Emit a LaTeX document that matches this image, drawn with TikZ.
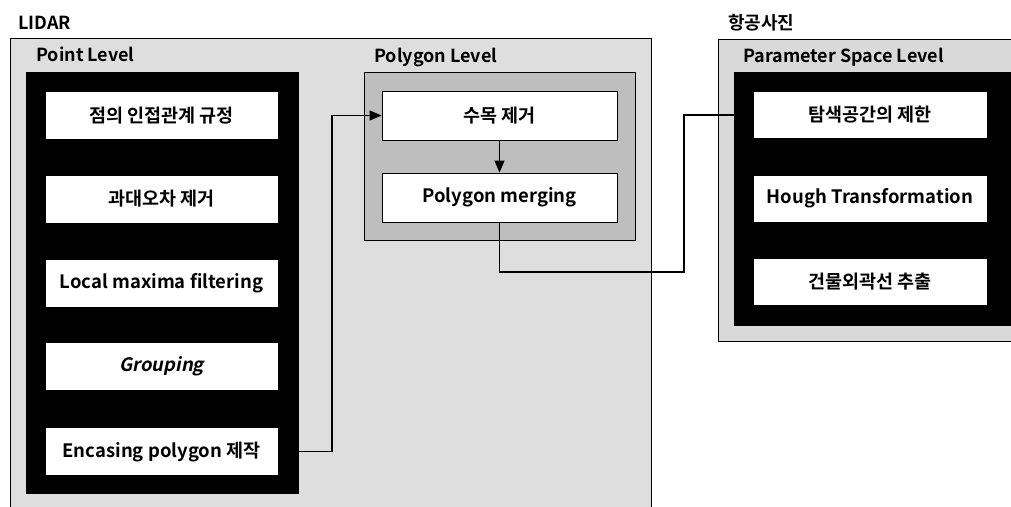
\documentclass[tikz,border=0pt]{standalone}
\usepackage{fontspec}
\setmainfont{Noto Sans CJK KR}[BoldFont={* Bold}, ItalicFont={Noto Sans CJK KR}, ItalicFeatures={FakeSlant=0.2}, BoldItalicFont={* Bold}, BoldItalicFeatures={FakeSlant=0.2}]
\usetikzlibrary{arrows.meta}
\definecolor{lidarbg}{HTML}{DEDEDE}
\definecolor{polybg}{HTML}{BEBEBE}
\definecolor{parambg}{HTML}{D9D9D9}
\tikzset{
  frame/.style={draw=black, line width=0.8pt},
  blackbox/.style={fill=black, draw=black, inner sep=0pt, outer sep=0pt},
  whitebox/.style={fill=white, draw=black, line width=0.9pt, minimum height=48pt, inner sep=0pt, font=\fontsize{18.5}{21}\selectfont\bfseries},
  levellabel/.style={anchor=base west, inner sep=0pt, font=\fontsize{18}{21}\selectfont\bfseries},
  conn/.style={draw=black, line width=1.2pt},
  arr/.style={conn, -{Triangle[length=12pt,width=10pt]}}
}
\begin{document}
\begin{tikzpicture}[x=1pt, y=-1pt]
\useasboundingbox (0,0) rectangle (1011,506);
\fill[white] (0,0) rectangle (1011,506);
\begin{scope}
\clip (0,0) rectangle (1011,506);
% LIDAR frame
\path[frame, fill=lidarbg] (10,38) rectangle (651,530);
% Parameter space frame
\path[frame, fill=parambg] (718,39) rectangle (1030,341);
% Polygon level box
\path[frame, fill=polybg] (364,72) rectangle (635,240);
% Point level black box
\node[blackbox, minimum width=272pt, minimum height=421pt] (pointblk) at (162,282.5) {};
% Parameter black box
\node[blackbox, minimum width=290pt, minimum height=253pt] (paramblk) at (879,198.5) {};
\end{scope}
% Labels
\node[levellabel] (lidar) at (18,29) {LIDAR};
\node[levellabel] (aerial) at (728,29) {항공사진};
\node[levellabel] (pointlbl) at (36,61) {Point Level};
\node[levellabel] (polylbl) at (374,62) {Polygon Level};
\node[levellabel] (paramlbl) at (743,62) {Parameter Space Level};
% Point level boxes
\node[whitebox, minimum width=233pt] (p1) at (161.5,115.5) {점의 인접관계 규정};
\node[whitebox, minimum width=233pt] (p2) at (161.5,199) {과대오차 제거};
\node[whitebox, minimum width=233pt] (p3) at (161.5,283) {Local maxima filtering};
\node[whitebox, minimum width=233pt] (p4) at (161.5,366.5) {\itshape Grouping};
\node[whitebox, minimum width=233pt] (p5) at (161.5,451.5) {Encasing polygon 제작};
% Polygon level boxes
\node[whitebox, minimum width=235pt, minimum height=49pt] (g1) at (499.5,115.5) {수목 제거};
\node[whitebox, minimum width=235pt, minimum height=49pt] (g2) at (499.5,197.5) {Polygon merging};
% Parameter space boxes
\node[whitebox, minimum width=234pt, minimum height=47pt] (s1) at (870,115) {탐색공간의 제한};
\node[whitebox, minimum width=234pt, minimum height=47pt] (s2) at (870,198.5) {Hough Transformation};
\node[whitebox, minimum width=234pt, minimum height=47pt] (s3) at (870,281.5) {건물외곽선 추출};
% Connectors
\coordinate (bend1) at (332,115.5);
\coordinate (bend2) at (684,272);
\draw[arr] (p5.east) -| (bend1) -- (g1.west);
\draw[arr] (g1.south) -- (g2.north);
\draw[conn] (g2.south) |- (bend2) |- (paramblk.west |- s1.west);
\end{tikzpicture}
\end{document}
